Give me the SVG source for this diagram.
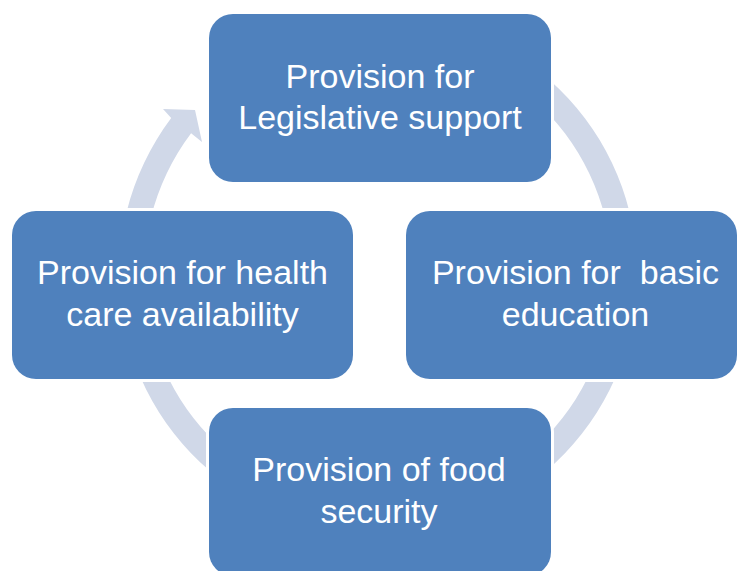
<svg xmlns="http://www.w3.org/2000/svg" width="737" height="571" viewBox="0 0 737 571">
  <style>
    .node { fill: #4F81BD; stroke: #FFFFFF; stroke-width: 6; paint-order: stroke fill; }
    .label { font-family: "Liberation Sans", Arial, sans-serif; font-size: 34px; fill: #FFFFFF; text-anchor: middle; }
    .ring { fill: #D0D8E8; stroke: none; }
  </style>
  <rect x="0" y="0" width="737" height="571" fill="#FFFFFF"/>
  <g id="connectors">
    <path class="ring" d="M 507.5 49.7 A 259 259 0 1 1 171.2 118.1 L 163 109 L 195 110 L 202 142 L 191.1 133.2 A 234 234 0 1 0 495 71.4 Z"/>
  </g>
  <g id="node-legislative">
    <rect class="node" x="209" y="14" width="342" height="168" rx="24" ry="24"/>
    <text class="label" x="380" y="88">Provision for</text>
    <text class="label" x="380" y="129">Legislative support</text>
  </g>
  <g id="node-health">
    <rect class="node" x="12" y="211" width="341" height="168" rx="24" ry="24"/>
    <text class="label" x="182.5" y="284">Provision for health</text>
    <text class="label" x="182.5" y="326">care availability</text>
  </g>
  <g id="node-education">
    <rect class="node" x="406" y="211" width="331" height="168" rx="24" ry="24"/>
    <text class="label" x="575.5" y="284" xml:space="preserve">Provision for  basic</text>
    <text class="label" x="575.5" y="326">education</text>
  </g>
  <g id="node-food">
    <rect class="node" x="209" y="408" width="342" height="168" rx="24" ry="24"/>
    <text class="label" x="379" y="481">Provision of food</text>
    <text class="label" x="379" y="523">security</text>
  </g>
</svg>
